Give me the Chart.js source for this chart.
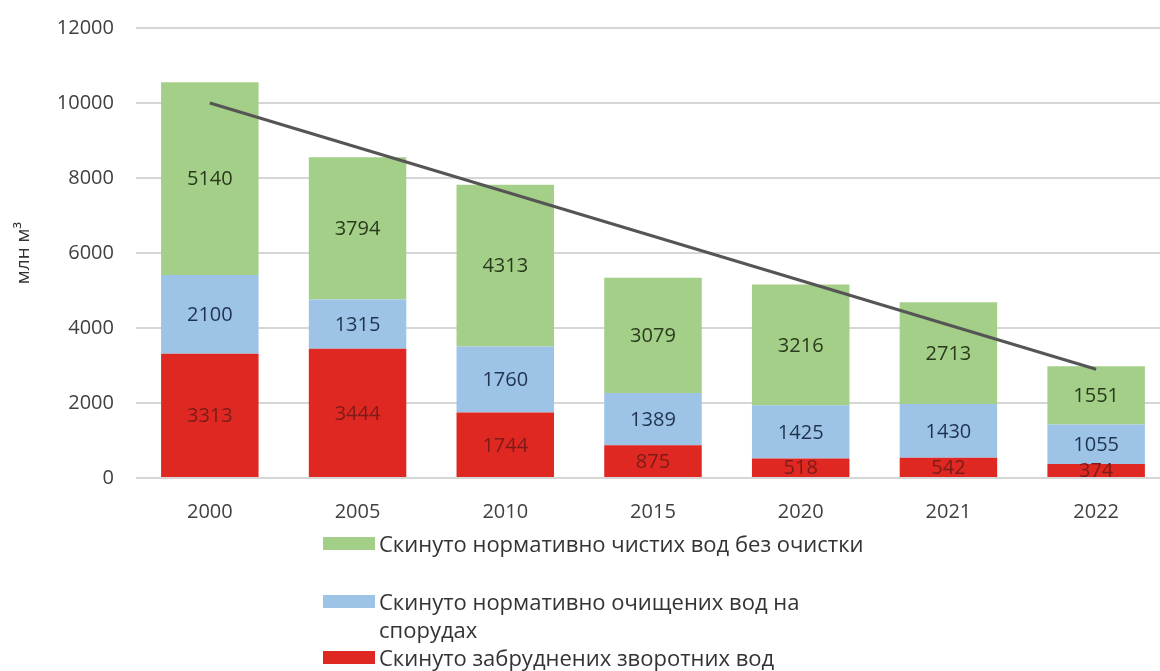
<!DOCTYPE html>
<html>
<head>
<meta charset="utf-8">
<script src="https://cdn.jsdelivr.net/npm/chart.js@4/dist/chart.umd.min.js"></script>
<style>
  html, body { margin: 0; padding: 0; background: #fff; overflow: hidden; }
  #wrap { position: absolute; left: 0; top: -6px; width: 1170px; height: 544px; }
  #legend { position: absolute; left: 323px; top: 529px; font-family: "Open Sans", sans-serif; font-size: 22px; color: #333; }
  .item { display: flex; align-items: flex-start; width: 600px; }
  .box { width: 52px; height: 13px; margin-top: 8px; margin-right: 4px; flex: none; }
</style>
</head>
<body>
<div id="wrap"><canvas id="grafico"></canvas></div>
<div id="legend"></div>
<script>
const anios = ['2000', '2005', '2010', '2015', '2020', '2021', '2022'];
const zabrudneni = [3313, 3444, 1744, 875, 518, 542, 374];
const ochyshcheni = [2100, 1315, 1760, 1389, 1425, 1430, 1055];
const chysti = [5140, 3794, 4313, 3079, 3216, 2713, 1551];
const trend = [10000, null, null, null, null, null, 2900];
const nombres = [
    'Скинуто нормативно чистих вод без очистки',
    'Скинуто нормативно очищених вод на спорудах',
    'Скинуто забруднених зворотних вод'
];

const colorRojo = '#e02822';
const colorAzul = '#9dc3e6';
const colorVerde = '#a3cf88';

// etiquetas dentro de cada segmento
const etiquetas = {
    id: 'etiquetas',
    afterDatasetsDraw(chart) {
        const ctx = chart.ctx;
        ctx.save();
        ctx.font = '20px "Open Sans", sans-serif';
        ctx.textAlign = 'center';
        ctx.textBaseline = 'middle';
        chart.data.datasets.forEach((ds, i) => {
            if (ds.type !== 'bar') return;
            const meta = chart.getDatasetMeta(i);
            meta.data.forEach((bar, j) => {
                ctx.fillStyle = ds.textColor;
                ctx.fillText(ds.data[j], bar.x, (bar.y + bar.base) / 2 + 1);
            });
        });
        ctx.restore();
    }
};

const ctx = document.getElementById('grafico').getContext('2d');
new Chart(ctx, {
    data: {
        labels: anios,
        datasets: [
            {
                type: 'line', label: 'trend', data: trend, spanGaps: true,
                borderColor: '#555555', borderWidth: 3, pointRadius: 0,
                stack: 'b', order: 0
            },
            { type: 'bar', label: nombres[2], data: zabrudneni, backgroundColor: colorRojo, textColor: '#7a1c18', stack: 'a', order: 1 },
            { type: 'bar', label: nombres[1], data: ochyshcheni, backgroundColor: colorAzul, textColor: '#1f3350', stack: 'a', order: 1 },
            { type: 'bar', label: nombres[0], data: chysti, backgroundColor: colorVerde, textColor: '#2a3a1c', stack: 'a', order: 1 }
        ]
    },
    options: {
        responsive: true,
        maintainAspectRatio: false,
        animation: false,
        datasets: { bar: { barPercentage: 0.66, categoryPercentage: 1 } },
        layout: { padding: { top: 4, left: 12, right: 0, bottom: 0 } },
        plugins: { legend: { display: false }, tooltip: { enabled: false } },
        scales: {
            x: {
                stacked: true,
                grid: { display: false },
                border: { display: false },
                ticks: { color: '#404040', font: { family: 'Open Sans', size: 20 }, padding: 14 }
            },
            y: {
                stacked: true,
                min: 0, max: 12000,
                ticks: { stepSize: 2000, color: '#404040', font: { family: 'Open Sans', size: 20 }, padding: 22, callback: v => String(v) },
                grid: { color: '#d6d6d6', lineWidth: 2, drawTicks: false },
                border: { display: false },
                title: { display: true, text: 'млн м³', color: '#333', font: { family: 'Open Sans', size: 19 }, padding: 0 }
            }
        }
    },
    plugins: [etiquetas]
});

// leyenda
const leyenda = document.getElementById('legend');
[[colorVerde, nombres[0], 1], [colorAzul, nombres[1], 0], [colorRojo, nombres[2], 0]].forEach(([c, t, mb]) => {
    const d = document.createElement('div');
    d.className = 'item';
    d.style.marginBottom = mb ? '30px' : '0';
    d.innerHTML = '<span class="box" style="background:' + c + '"></span><span style="max-width:500px;line-height:28px">' + t + '</span>';
    leyenda.appendChild(d);
});
</script>
</body>
</html>
